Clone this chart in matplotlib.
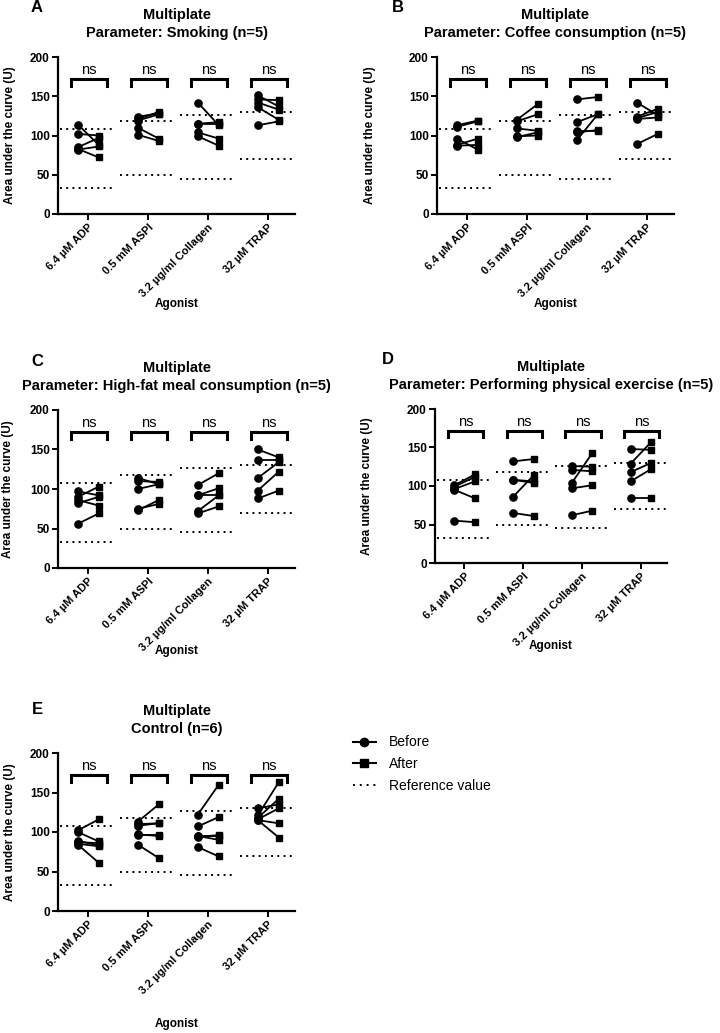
import numpy as np
from matplotlib import pyplot as plt
from matplotlib.lines import Line2D

plt.rcParams['font.family'] = ['Liberation Sans', 'DejaVu Sans']

# data
agonists = ['6.4 \u00b5M ADP', '0.5 mM ASPI', '3.2 \u00b5g/ml Collagen', '32 \u00b5M TRAP']
ref_low = [33, 50, 45, 70]
ref_high = [108, 118, 126, 130]

subtitles = ['Parameter: Smoking (n=5)',
             'Parameter: Coffee consumption (n=5)',
             'Parameter: High-fat meal consumption (n=5)',
             'Parameter: Performing physical exercise (n=5)',
             'Control (n=6)']
letters = ['A', 'B', 'C', 'D', 'E']

smoking_before = [[114, 102, 85, 83, 82], [124, 121, 119, 110, 101],
                  [142, 115, 115, 104, 99], [151, 146, 142, 136, 113]]
smoking_after = [[88, 100, 97, 72, 86], [128, 130, 127, 96, 93],
                 [113, 117, 115, 96, 87], [137, 145, 133, 120, 118]]

coffee_before = [[113, 111, 96, 88, 87], [120, 118, 109, 99, 98],
                 [146, 117, 106, 104, 94], [142, 124, 122, 121, 89]]
coffee_after = [[119, 118, 82, 96, 88], [140, 127, 106, 100, 104],
                [149, 127, 106, 107, 127], [126, 134, 130, 123, 102]]

fat_before = [[97, 90, 86, 82, 56], [114, 110, 100, 75, 73],
              [105, 93, 92, 72, 69], [150, 137, 114, 98, 88]]
fat_after = [[92, 103, 79, 90, 69], [106, 109, 106, 81, 86],
             [120, 93, 101, 92, 78], [140, 137, 134, 122, 98]]

exercise_before = [[101, 99, 96, 95, 55], [132, 108, 108, 86, 65],
                   [126, 121, 104, 97, 62], [148, 129, 118, 106, 85]]
exercise_after = [[115, 112, 106, 84, 53], [135, 104, 106, 114, 61],
                  [125, 119, 143, 101, 68], [147, 157, 130, 122, 85]]

control_before = [[102, 100, 89, 87, 85, 84], [113, 110, 108, 97, 96, 84],
                  [122, 107, 95, 95, 94, 81], [130, 121, 118, 116, 115, 115]]
control_after = [[116, 88, 83, 86, 82, 61], [135, 111, 111, 95, 96, 67],
                 [160, 119, 95, 90, 96, 69], [135, 163, 142, 130, 111, 93]]

befores = [smoking_before, coffee_before, fat_before, exercise_before, control_before]
afters = [smoking_after, coffee_after, fat_after, exercise_after, control_after]

W, H = 720, 1033
fig = plt.figure(figsize=(W / 100, H / 100), dpi=100)

# axes boxes in pixels: left, top(200), bottom(0), width
boxes = [(58, 57, 214, 237), (437, 57, 214, 237), (58, 410, 568, 237),
         (435, 409, 563, 232), (58, 753, 911, 237)]
letter_pos = [(37, 8), (398, 8), (37, 361), (388, 360), (37, 710)]
xlab_y = [-0.535, -0.535, -0.487, -0.50, -0.68]
ylab_x = [-0.178, -0.257, -0.185, -0.267, -0.178]

for k in range(5):
    l, t, b, w = boxes[k]
    ax = fig.add_axes([l / W, 1 - b / H, w / W, (b - t) / H])
    for g in range(4):
        bef = befores[k][g]
        aft = afters[k][g]
        for yb, ya in zip(bef, aft):
            ax.plot([g - 0.17, g + 0.18], [yb, ya], color='black', lw=1.3, zorder=3)
        ax.plot([g - 0.17] * len(bef), bef, 'o', color='black', ms=5.2, zorder=4)
        ax.plot([g + 0.18] * len(aft), aft, 's', color='black', ms=5, zorder=4)
        ax.plot([g - 0.46, g + 0.47], [ref_high[g]] * 2, color='black', lw=1.4,
                ls=(0, (1, 2.2)), zorder=2)
        ax.plot([g - 0.46, g + 0.47], [ref_low[g]] * 2, color='black', lw=1.4,
                ls=(0, (1, 2.2)), zorder=2)
        # significance bracket
        ax.plot([g - 0.28, g - 0.28, g + 0.32, g + 0.32], [163, 172, 172, 163],
                color='black', lw=2.2, solid_joinstyle='miter', clip_on=False)
        ax.text(g + 0.02, 183, 'ns', ha='center', va='center', fontsize=10.5)

    ax.set_xlim(-0.5, 3.45)
    ax.set_ylim(0, 200)
    ax.set_yticks([0, 50, 100, 150, 200])
    ax.set_xticks(range(4))
    ax.set_xticklabels(agonists, rotation=45, ha='right', rotation_mode='anchor',
                       fontsize=8, fontweight='bold')
    for lab in ax.get_yticklabels():
        lab.set_fontweight('bold')
        lab.set_fontsize(8.5)
    ax.spines['top'].set_visible(False)
    ax.spines['right'].set_visible(False)
    ax.spines['left'].set_linewidth(1.6)
    ax.spines['bottom'].set_linewidth(1.6)
    ax.tick_params(width=1.4, length=4, pad=2)

    # two-line title
    ax.annotate('Multiplate', xy=(0.5, 1), xycoords='axes fraction',
                xytext=(0, 30.5), textcoords='offset points', ha='center',
                va='center', fontsize=10.5, fontweight='bold')
    ax.annotate(subtitles[k], xy=(0.5, 1), xycoords='axes fraction',
                xytext=(0, 17.5), textcoords='offset points', ha='center',
                va='center', fontsize=10.5, fontweight='bold')

    ax.set_ylabel('Area under the curve (U)', fontsize=8.5, fontweight='bold')
    ax.yaxis.set_label_coords(ylab_x[k], 0.5)
    ax.set_xlabel('Agonist', fontsize=8.5, fontweight='bold')
    ax.xaxis.set_label_coords(0.5, xlab_y[k])
    lx, ly = letter_pos[k]
    fig.text(lx / W, 1 - ly / H, letters[k], fontsize=12, fontweight='bold',
             ha='center', va='center')

handles = [Line2D([], [], color='black', lw=1.5, marker='o', ms=6),
           Line2D([], [], color='black', lw=1.5, marker='s', ms=6),
           Line2D([], [], color='black', lw=1.4, ls=(0, (1, 2.5)))]
fig.legend(handles, ['Before', 'After', 'Reference value'], loc='upper left',
           bbox_to_anchor=(340 / W, 1 - 723 / H), frameon=False, fontsize=10,
           handlelength=1.7, handletextpad=0.9, labelspacing=0.55)

fig.savefig('out.png', dpi=100)
